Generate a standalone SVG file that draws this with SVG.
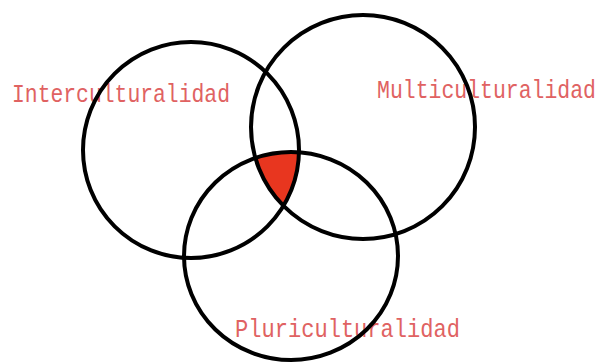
<svg xmlns="http://www.w3.org/2000/svg" width="605" height="363" viewBox="0 0 605 363">
<style>
.lbl{font-family:"Liberation Mono","DejaVu Sans Mono",monospace;font-size:21px;fill:#e06262;}
.c{fill:none;stroke:#000;stroke-width:4;}
</style>
<defs>
<clipPath id="cp2"><circle cx="363" cy="127" r="112"/></clipPath>
<clipPath id="cp3"><ellipse cx="291" cy="256" rx="107" ry="104"/></clipPath>
</defs>
<rect width="605" height="363" fill="#fff"/>
<g id="labels">
<text class="lbl" transform="translate(12,102) scale(1,1.24)" textLength="218" lengthAdjust="spacingAndGlyphs">Interculturalidad</text>
<text class="lbl" transform="translate(377,98) scale(1,1.24)" textLength="219" lengthAdjust="spacingAndGlyphs">Multiculturalidad</text>
<text class="lbl" transform="translate(235,337) scale(1,1.24)" textLength="225" lengthAdjust="spacingAndGlyphs">Pluriculturalidad</text>
</g>
<g id="center" clip-path="url(#cp3)">
<circle cx="191" cy="150" r="108" fill="#e8361f" clip-path="url(#cp2)"/>
</g>
<g id="interculturalidad"><circle class="c" cx="191" cy="150" r="108"/></g>
<g id="multiculturalidad"><circle class="c" cx="363" cy="127" r="112"/></g>
<g id="pluriculturalidad"><ellipse class="c" cx="291" cy="256" rx="107" ry="104"/></g>
<g id="connectors"></g>
</svg>
